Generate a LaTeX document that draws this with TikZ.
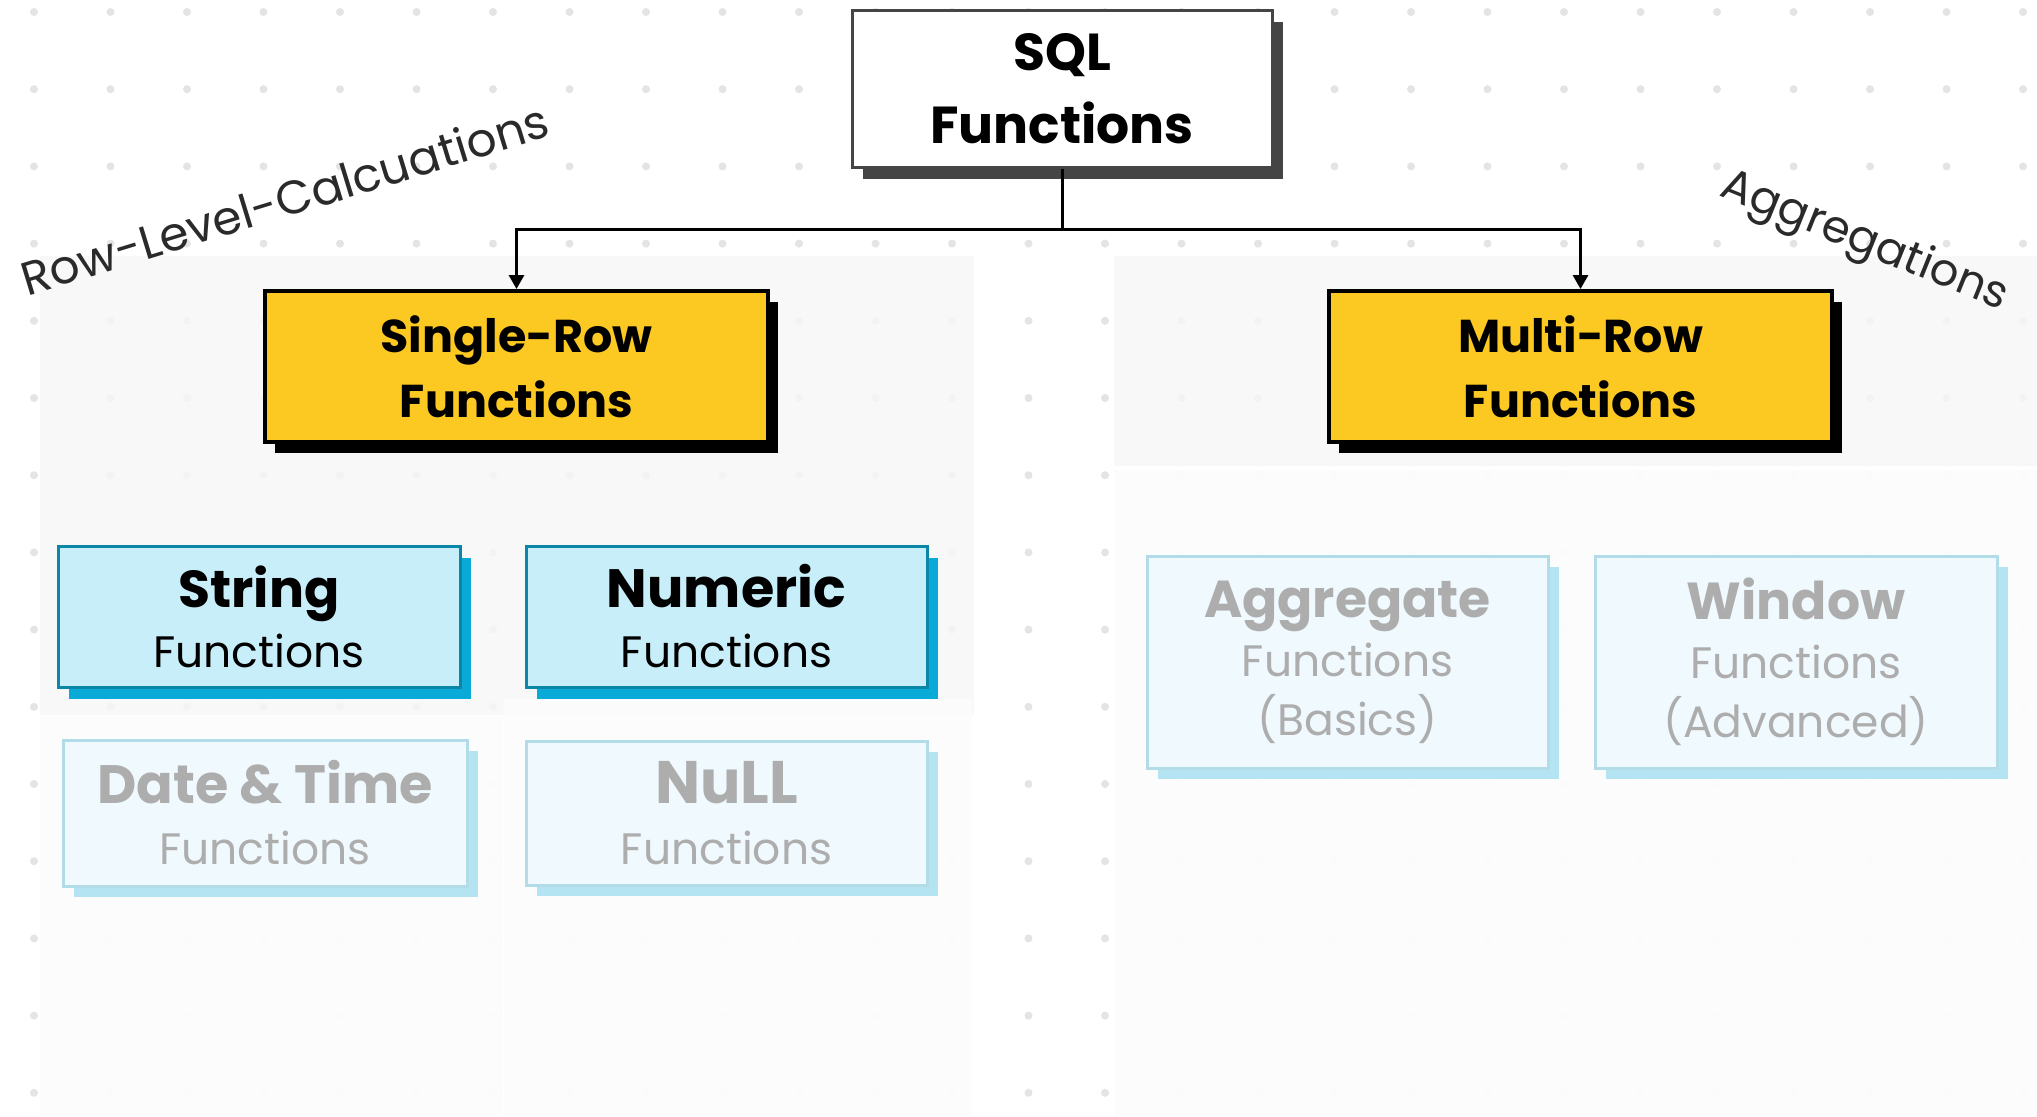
\documentclass[tikz,border=0pt]{standalone}
\usepackage{fontspec}
\setmainfont{Poppins}
\usetikzlibrary{shadows,arrows.meta}

\definecolor{dotgray}{HTML}{E4E4E4}
\definecolor{panelA}{HTML}{F7F7F7}
\definecolor{panelB}{HTML}{FCFCFC}
\definecolor{sqlline}{HTML}{454545}
\definecolor{gold}{HTML}{FCC822}
\definecolor{skyfill}{HTML}{C8EFF9}
\definecolor{skyline}{HTML}{0B86A6}
\definecolor{skyshade}{HTML}{09AAD7}
\definecolor{palefill}{HTML}{EFF9FE}
\definecolor{paleline}{HTML}{B2DCE7}
\definecolor{paleshade}{HTML}{B4E4F1}
\definecolor{paletext}{HTML}{ADADAD}
\definecolor{inkgray}{HTML}{2A2A2A}

\tikzset{
  box/.style={draw, line width=1.5pt, inner sep=0pt, align=center, text=black},
  sqlbox/.style={box, draw=sqlline, fill=white,
    drop shadow={shadow xshift=5.5pt, shadow yshift=-6pt, fill=sqlline, opacity=1},
    font=\fontsize{26}{36.5}\selectfont\bfseries},
  goldbox/.style={box, draw=black, line width=2pt, fill=gold,
    drop shadow={shadow xshift=5pt, shadow yshift=-5.5pt, fill=black, opacity=1},
    font=\fontsize{23}{32.5}\selectfont\bfseries},
  skybox/.style={box, draw=skyline, fill=skyfill,
    drop shadow={shadow xshift=5.5pt, shadow yshift=-6pt, fill=skyshade, opacity=1},
    font=\fontsize{22}{30}\selectfont},
  palebox/.style={box, draw=paleline, fill=palefill, text=paletext,
    drop shadow={shadow xshift=5.5pt, shadow yshift=-5.5pt, fill=paleshade, opacity=1},
    font=\fontsize{22}{30.5}\selectfont},
  conn/.style={line width=1.5pt, draw=black},
  tip/.style={-{Triangle[length=7pt,width=7.5pt]}},
  sidenote/.style={text=inkgray, inner sep=0pt},
  panelupper/.style={fill=panelA, fill opacity=0.8},
  panellower/.style={fill=panelB, fill opacity=0.96}
}

\begin{document}
\begin{tikzpicture}[x=0.5pt, y=-0.5pt]
  % canvas
  \fill[white] (0,0) rectangle (2037,1116);
  \useasboundingbox (0,0) rectangle (2037,1116);

  % dotted grid
  \foreach \i in {0,...,26}
    \foreach \j in {0,...,14}
      \fill[dotgray] (34+76.5*\i, 12+77.2*\j) circle (2pt);

  % soft background panels
  \fill[panelupper] (40,256) rectangle (974,715);
  \fill[panellower] (40,716) rectangle (503,1116);
  \fill[panellower] (504,699) rectangle (972,1116);
  \fill[panelupper] (1114,256) rectangle (2037,466);
  \fill[panellower] (1114,470) rectangle (2037,1116);

  % root
  \node[sqlbox, minimum width=210pt, minimum height=78.5pt] (sql) at (1062,88.5)
    {SQL\\Functions};

  % first level
  \node[goldbox, minimum width=251.5pt, minimum height=75.5pt] (single) at (516.5,366.5)
    {Single-Row\\Functions};
  \node[goldbox, minimum width=251.5pt, minimum height=75.5pt] (multi) at (1580.5,366.5)
    {Multi-Row\\Functions};

  % single-row categories
  \node[skybox, minimum width=201pt, minimum height=70.5pt] (string) at (259,616.5)
    {{\fontsize{26}{30}\selectfont\bfseries String}\\Functions};
  \node[skybox, minimum width=200.5pt, minimum height=70.5pt] (numeric) at (726.5,616.5)
    {{\fontsize{27}{30}\selectfont\bfseries Numeric}\\Functions};
  \node[palebox, minimum width=202pt, minimum height=73pt] (datetime) at (265,813)
    {{\fontsize{27}{30}\selectfont\bfseries Date \& Time}\\Functions};
  \node[palebox, minimum width=200.5pt, minimum height=72pt] (nullf) at (726.5,813)
    {{\fontsize{30}{30}\selectfont\bfseries NuLL}\\Functions};

  % multi-row categories
  \node[palebox, minimum width=200.5pt, minimum height=106pt, font=\fontsize{22}{29.5}\selectfont] (aggregate) at (1347.5,662)
    {{\fontsize{26}{30}\selectfont\bfseries Aggregate}\\Functions\\(Basics)};
  \node[palebox, minimum width=201pt, minimum height=106pt, font=\fontsize{22}{29.5}\selectfont] (window) at (1796,662)
    {{\fontsize{26}{30}\selectfont\bfseries Window}\\Functions\\(Advanced)};

  % connectors
  \coordinate (fork) at (1062,229);
  \draw[conn] (sql.south) -- (fork);
  \draw[conn, tip] (fork) -| (single.north);
  \draw[conn, tip] (fork) -| (multi.north);

  % slanted side notes
  \node[sidenote, rotate=17, anchor=base, font=\fontsize{23.5}{28}\selectfont] (rowlevel) at (290,216)
    {Row-Level-Calcuations};
  \node[sidenote, rotate=-22, anchor=base, font=\fontsize{22.5}{26}\selectfont] (aggnote) at (1860,253)
    {Aggregations};
\end{tikzpicture}
\end{document}
